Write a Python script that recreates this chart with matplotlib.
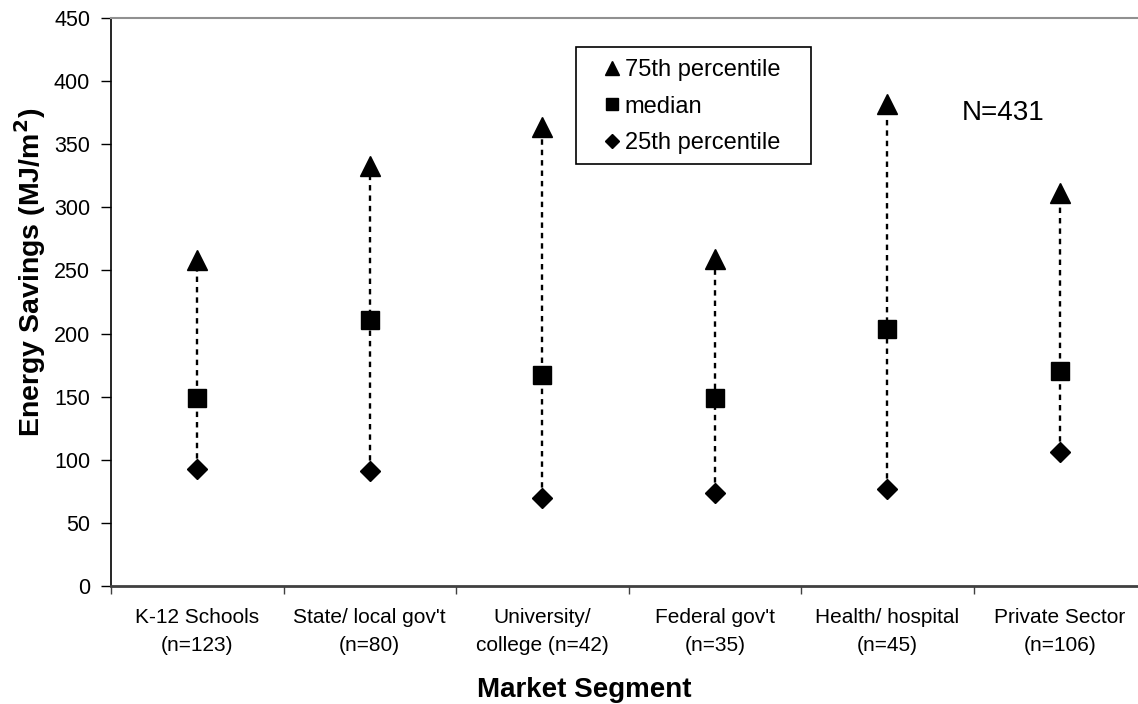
import matplotlib
matplotlib.use("Agg")
import matplotlib.pyplot as plt
from matplotlib.ticker import FixedLocator, NullFormatter, FixedFormatter
from matplotlib.patches import Rectangle

plt.rcParams['font.family'] = ['Liberation Sans', 'DejaVu Sans']

categories = ["K-12 Schools\n(n=123)", "State/ local gov't\n(n=80)", "University/\ncollege (n=42)",
              "Federal gov't\n(n=35)", "Health/ hospital\n(n=45)", "Private Sector\n(n=106)"]
p75 = [258, 333, 364, 259, 382, 311]
median = [149, 211, 167, 149, 204, 170]
p25 = [93, 91, 70, 74, 77, 106]
y_ticks = [0, 50, 100, 150, 200, 250, 300, 350, 400, 450]

W, H = 1138, 704
fig = plt.figure(figsize=(W / 100, H / 100), dpi=100)
ax = fig.add_axes([111 / W, 1 - 586 / H, (1146 - 111) / W, (586 - 18) / H])

xs = [i + 0.5 for i in range(len(categories))]
for x, lo, hi in zip(xs, p25, p75):
    ax.plot([x, x], [lo, hi], color='black', lw=1.7, linestyle=(0, (2.3, 2.1)), zorder=1)

ax.plot(xs, p75, linestyle='none', marker='^', color='black', markersize=14, label='75th percentile', zorder=3)
ax.plot(xs, median, linestyle='none', marker='s', color='black', markersize=12.5, label='median', zorder=3)
ax.plot(xs, p25, linestyle='none', marker='D', color='black', markersize=10.5, label='25th percentile', zorder=3)

ax.set_xlim(0, len(categories))
ax.set_ylim(0, 450)
ax.set_yticks(y_ticks)
ax.tick_params(axis='y', direction='out', length=7, width=1, labelsize=15.5, pad=8, colors='black')

ax.xaxis.set_major_locator(FixedLocator(list(range(len(categories) + 1))))
ax.xaxis.set_major_formatter(NullFormatter())
ax.xaxis.set_minor_locator(FixedLocator(xs))
ax.xaxis.set_minor_formatter(FixedFormatter(categories))
ax.tick_params(axis='x', which='major', direction='out', length=6, width=1, color='#404040')
ax.tick_params(axis='x', which='minor', length=0, labelsize=15, pad=16)
for lbl in ax.xaxis.get_minorticklabels():
    lbl.set_linespacing(1.6)

ax.spines['left'].set_color('black')
ax.spines['left'].set_linewidth(1.2)
ax.spines['bottom'].set_color('#404040')
ax.spines['bottom'].set_linewidth(2)
ax.spines['top'].set_color('#909090')
ax.spines['top'].set_linewidth(1.5)
ax.spines['right'].set_visible(False)

ax.text(4.93, 375, "N=431", fontsize=20, ha='left', va='center')

# legend box drawn separately, legend entries without frame
fig.patches.append(Rectangle((576 / W, 1 - 164 / H), (811 - 576) / W, (164 - 47) / H,
                             transform=fig.transFigure, fill=False, edgecolor='black', linewidth=1.2))
leg = ax.legend(loc='upper left', bbox_to_anchor=(606 / W, 1 - 59 / H), bbox_transform=fig.transFigure,
                frameon=False, fontsize=17, markerscale=0.72, handlelength=0.55,
                handletextpad=0.25, labelspacing=0.62, borderpad=0, borderaxespad=0)

fig.text(30 / W, 1 - 272 / H, "Energy Savings (MJ/m$^\\mathbf{2}$)", rotation=90, fontsize=20.5,
         fontweight='bold', ha='center', va='center')
fig.text(584 / W, 1 - 690 / H, "Market Segment", fontsize=20, fontweight='bold', ha='center', va='center')

fig.savefig("out.png", dpi=100)
